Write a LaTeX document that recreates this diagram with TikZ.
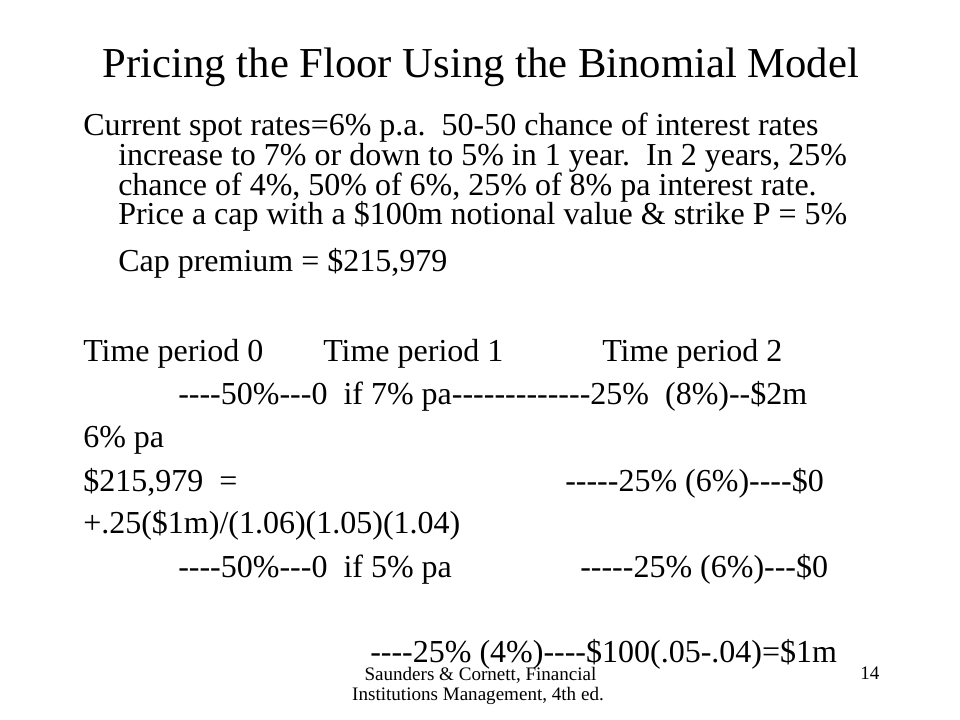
\documentclass[tikz,border=0pt]{standalone}
\usepackage{fontspec}
\newfontfamily\slidefont{Liberation Serif}
\usetikzlibrary{positioning}
\tikzset{
  slidetitle/.style={font=\slidefont\fontsize{32}{38}\selectfont, inner sep=0pt, anchor=base},
  body/.style={font=\slidefont\fontsize{24}{28}\selectfont, inner sep=0pt, anchor=base west},
  foot/.style={font=\slidefont\fontsize{14.3}{17}\selectfont, inner sep=0pt, anchor=base},
}

\begin{document}
\begin{tikzpicture}[x=0.75pt, y=-0.75pt]
  \useasboundingbox (0,0) rectangle (960,720);

  %% title
  \node[slidetitle] (title) at (481,78) {Pricing the Floor Using the Binomial Model};

  %% problem statement
  \node[body] (l1) at (83,136) {Current spot rates=6\% p.a.\ \ 50-50 chance of interest rates};
  \node[body] (l2) at (118,166) {increase to 7\% or down to 5\% in 1 year.\ \ In 2 years, 25\%};
  \node[body] (l3) at (118,196) {chance of 4\%, 50\% of 6\%, 25\% of 8\% pa interest rate.};
  \node[body] (l4) at (118,225) {Price a cap with a \$100m notional value \& strike P = 5\%};
  \node[body] (prem) at (118,272) {Cap premium = \$215,979};

  %% tree header
  \node[body] (t0) at (83,361) {Time period 0};
  \node[body] (t1) at (323,361) {Time period 1};
  \node[body] (t2) at (602,361) {Time period 2};

  %% tree
  \node[body] (up) at (178,404) {----50\%---0\ \ if 7\% pa-------------25\%\ \ (8\%)--\$2m};
  \node[body] (root) at (83,447) {6\% pa};
  \node[body] (val) at (83,491) {\$215,979\ \ =};
  \node[body] (mid1) at (565,491) {-----25\% (6\%)----\$0};
  \node[body] (calc) at (83,533) {+.25(\$1m)/(1.06)(1.05)(1.04)};
  \node[body] (down) at (178,577) {----50\%---0\ \ if 5\% pa};
  \node[body] (mid2) at (580,577) {-----25\% (6\%)---\$0};
  \node[body] (low) at (370,662) {----25\% (4\%)----\$100(.05-.04)=\$1m};

  %% footer
  \node[foot] (src1) at (480.5,680) {Saunders \& Cornett, Financial};
  \node[foot] (src2) at (478,700) {Institutions Management, 4th ed.};
  \node[foot, anchor=base west] (page) at (860,679) {14};
\end{tikzpicture}
\end{document}
